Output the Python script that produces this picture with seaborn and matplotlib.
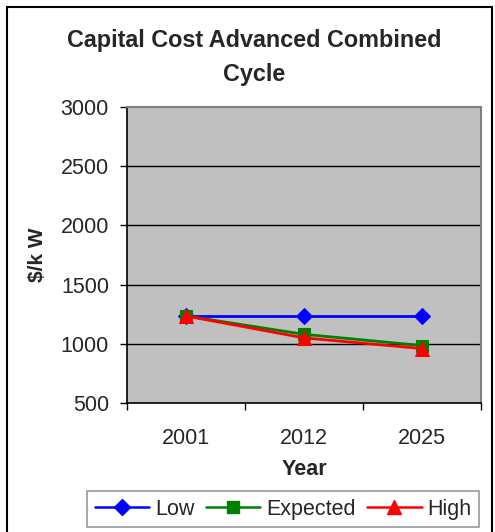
import numpy as np
import pandas as pd
import matplotlib
matplotlib.use("Agg")
import matplotlib.pyplot as plt
from matplotlib.lines import Line2D
from matplotlib.patches import Rectangle
import seaborn as sns

years = ["2001", "2012", "2025"]
low = [1235, 1235, 1235]
expected = [1235, 1080, 985]
high = [1235, 1050, 960]
series_names = ["Low", "Expected", "High"]
y_ticks = [500, 1000, 1500, 2000, 2500, 3000]

sns.set_style("white")
plt.rcParams["font.family"] = ["Liberation Sans", "DejaVu Sans"]

pos = np.arange(len(years))
df = pd.DataFrame({
    "pos": np.tile(pos, 3),
    "value": low + expected + high,
    "series": np.repeat(series_names, len(years)),
})

fig = plt.figure(figsize=(4.95, 5.32), dpi=100)
ax = fig.add_axes([127 / 495, 1 - 403 / 532, (481 - 127) / 495, (403 - 107) / 532])
ax.set_facecolor("#c0c0c0")

palette = {"Low": "#0000ff", "Expected": "#008000", "High": "#ff0000"}
markers = {"Low": "D", "Expected": "s", "High": "^"}
sizes = {"Low": 8.5, "Expected": 8.5, "High": 10.5}
for name in series_names:
    sub = df[df["series"] == name]
    sns.lineplot(data=sub, x="pos", y="value", ax=ax, color=palette[name],
                 marker=markers[name], markersize=sizes[name],
                 markeredgecolor=palette[name], linewidth=2.0, legend=False)

ax.set_xlim(-0.5, len(years) - 0.5)
ax.set_ylim(500, 3000)
ax.set_yticks(y_ticks)
ax.set_yticklabels([str(v) for v in y_ticks], fontsize=15.5)
for v in y_ticks[1:-1]:
    ax.axhline(v, color="black", linewidth=1.0, zorder=0.5)

ax.set_xticks(np.arange(len(years) + 1) - 0.5)
ax.set_xticklabels([])
ax.set_xticks(pos, minor=True)
ax.set_xticklabels(years, minor=True, fontsize=15.5)
ax.tick_params(axis="x", which="minor", length=0, pad=18)
ax.tick_params(axis="x", which="major", direction="out", length=5, width=1, color="black", bottom=True)
ax.tick_params(axis="y", direction="out", length=5, width=1, color="black", left=True, pad=8)

for side in ["top", "right"]:
    ax.spines[side].set_color("#808080")
    ax.spines[side].set_linewidth(1.5)
for side in ["left", "bottom"]:
    ax.spines[side].set_color("black")
    ax.spines[side].set_linewidth(1.2)

ax.set_xlabel("Year", fontsize=15.5, fontweight="bold", labelpad=7)
ax.set_ylabel("$/k W", fontsize=15, fontweight="bold", labelpad=10)

fig.text(254 / 495, 1 - 41 / 532, "Capital Cost Advanced Combined", ha="center", va="center",
         fontsize=16.8, fontweight="bold")
fig.text(254 / 495, 1 - 74 / 532, "Cycle", ha="center", va="center",
         fontsize=16.8, fontweight="bold")

# chart border
fig.patches.append(Rectangle((7 / 495, -0.05), (492 - 7) / 495, 1 - 7 / 532 + 0.05,
                             transform=fig.transFigure, fill=False, edgecolor="black",
                             linewidth=1.5))

handles = [Line2D([], [], color=palette[n], marker=markers[n], markersize=sizes[n],
                  linewidth=1.8) for n in series_names]
leg = fig.legend(handles, series_names, loc="upper left",
                 bbox_to_anchor=(87 / 495, 1 - 491 / 532), ncol=3, fontsize=15.5,
                 frameon=True, fancybox=False, edgecolor="#808080", handlelength=2.55,
                 columnspacing=0.5, handletextpad=0.28, borderpad=0.35, borderaxespad=0)
leg.get_frame().set_linewidth(1.2)

fig.savefig("out.png", dpi=100)
